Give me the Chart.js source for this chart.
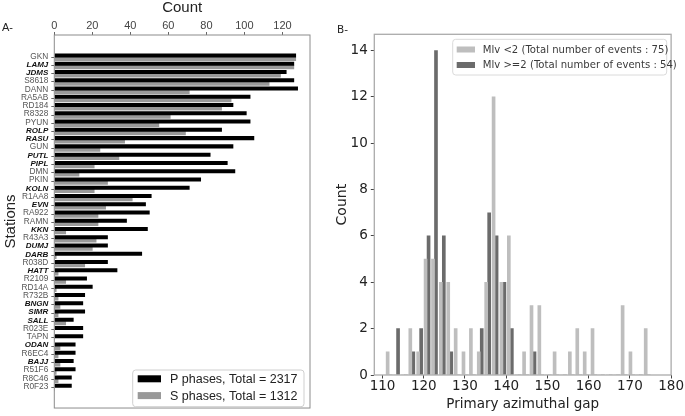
<!DOCTYPE html>
<html>
<head>
<meta charset="utf-8">
<script src="https://cdn.jsdelivr.net/npm/chart.js@4"></script>
<style>
html,body{margin:0;padding:0;background:#fff;}
#wrap{position:relative;width:685px;height:416px;overflow:hidden;background:#fff;}
#boxA{position:absolute;left:0;top:0;width:330px;height:416px;}
#boxB{position:absolute;left:330px;top:0;width:355px;height:416px;}
.tag{position:absolute;line-height:12px;color:#222;white-space:nowrap;}
</style>
</head>
<body>
<div id="wrap">
  <div id="boxA"><canvas id="chartA"></canvas></div>
  <div id="boxB"><canvas id="chartB"></canvas></div>
  <div class="tag" style="left:2px;top:21px;font-family:'Liberation Sans',Arial,sans-serif;font-size:11px;">A-</div>
  <div class="tag" style="left:337px;top:23px;font-family:'DejaVu Sans',sans-serif;font-size:10.5px;">B-</div>
</div>
<script>
// ---------- Panel A data ----------
const stations = ['GKN','LAMJ','JDMS','S8618','DANN','RA5AB','RD184','R8328','PYUN','ROLP','RASU','GUN','PUTL','PIPL','DMN','PKIN','KOLN','R1AA8','EVN','RA922','RAMN','KKN','R43A3','DUMJ','DARB','R038D','HATT','R2109','RD14A','R732B','BNGN','SIMR','SALL','R023E','TAPN','ODAN','R6EC4','BAJJ','R51F6','R8C46','R0F23'];
const strongStations = ['LAMJ','JDMS','ROLP','RASU','PUTL','PIPL','KOLN','EVN','KKN','DUMJ','DARB','HATT','BNGN','SIMR','SALL','ODAN','BAJJ'];
const pPhases = [127,126,122,126,128,103,94,101,103,88,105,94,82,91,95,77,71,51,48,50,38,49,28,28,46,28,33,17,20,16,15,16,10,15,15,11,11,10,11,9,9];
const sPhases = [127,126,119,113,71,93,88,61,55,69,37,24,34,21,13,28,21,41,27,23,23,6,22,20,1,16,2,6,1,2,3,2,6,0,0,3,2,3,1,2,0];
const pLabel = 'P phases, Total = 2317';
const sLabel = 'S phases, Total = 1312';
const countTicksA = [0,20,40,60,80,100,120];

// ---------- Panel B data ----------
const gapBins = [111.6,113.4,115.3,117.1,119.0,120.8,122.6,124.5,126.3,128.1,130.0,131.8,133.7,135.5,137.3,139.2,141.0,142.9,144.7,146.5,148.4,150.2,152.1,153.9,155.8,157.6,159.4,161.3,163.1,165.0,166.8,168.6,170.5,172.3,174.2];
const mlvLow  = [1,0,0,2,1,5,5,4,4,2,1,2,1,4,12,4,6,0,1,3,3,0,1,0,1,2,1,2,0,0,0,3,1,0,2];
const mlvHigh = [0,2,0,1,2,6,14,6,1,0,0,0,2,7,6,4,2,0,0,1,0,0,0,0,0,0,0,0,0,0,0,0,0,0,0];
const lowLabel = 'Mlv <2 (Total number of events : 75)';
const highLabel = 'Mlv >=2 (Total number of events : 54)';
const gapTicks = [110,120,130,140,150,160,170,180];
const countTicksB = [0,2,4,6,8,10,12,14];

const SANS = '"Liberation Sans", Arial, sans-serif';
const DEJA = '"DejaVu Sans", sans-serif';

const framePlugin = {
  id: 'frame',
  afterDraw(chart, args, o) {
    const a = chart.chartArea, ctx = chart.ctx;
    ctx.save();
    ctx.strokeStyle = o.color; ctx.lineWidth = o.width;
    ctx.strokeRect(a.left, a.top, a.right - a.left, a.bottom - a.top);
    ctx.restore();
  }
};

const boxLegend = {
  id: 'boxLegend',
  afterDraw(chart, args, o) {
    const ctx = chart.ctx;
    ctx.save();
    ctx.beginPath();
    if (ctx.roundRect) ctx.roundRect(o.x, o.y, o.w, o.h, 3); else ctx.rect(o.x, o.y, o.w, o.h);
    ctx.fillStyle = 'rgba(255,255,255,0.92)'; ctx.fill();
    ctx.strokeStyle = o.border; ctx.lineWidth = 1; ctx.stroke();
    chart.data.datasets.forEach((ds, i) => {
      const cy = o.y + o.firstRow + i * o.rowH;
      ctx.fillStyle = ds.backgroundColor;
      ctx.fillRect(o.x + o.patchX, cy - o.patchH / 2, o.patchW, o.patchH);
      ctx.fillStyle = o.color; ctx.font = o.font; ctx.textBaseline = 'middle'; ctx.textAlign = 'left';
      ctx.fillText(ds.label, o.x + o.textX, cy + 0.5);
    });
    ctx.restore();
  }
};

// ---------- Chart A ----------
new Chart(document.getElementById('chartA'), {
  type: 'bar',
  data: {
    datasets: [
      { label: pLabel, data: pPhases.map((v, i) => ({x: v, y: i})), backgroundColor: '#000000', barThickness: 3.35 },
      { label: sLabel, data: sPhases.map((v, i) => ({x: v, y: i})), backgroundColor: '#999999', barThickness: 3.35 }
    ]
  },
  plugins: [framePlugin, boxLegend],
  options: {
    indexAxis: 'y',
    responsive: true, maintainAspectRatio: false, animation: false, devicePixelRatio: 1,
    layout: { padding: { left: 0, right: 20, top: 0, bottom: 3.3 } },
    plugins: {
      legend: { display: false }, tooltip: { enabled: false },
      frame: { color: '#8c8c8c', width: 1 },
      boxLegend: { x: 132.7, y: 370, w: 171.3, h: 36.7, firstRow: 8.8, rowH: 16.8, patchX: 5, patchW: 23.3, patchH: 7, textX: 37.3,
                   font: '12.5px ' + SANS, color: '#222', border: '#cfcfcf' }
    },
    scales: {
      x: {
        type: 'linear', position: 'top', min: 0, max: 134.5, bounds: 'data',
        afterBuildTicks: s => { s.ticks = countTicksA.map(v => ({value: v})); },
        ticks: { padding: 1, color: '#444', font: { family: SANS, size: 11, lineHeight: 1 } },
        grid: { display: true, drawOnChartArea: false, tickLength: 3, color: '#666', offset: false },
        border: { display: false },
        title: { display: true, text: 'Count', color: '#222', font: { family: SANS, size: 15, lineHeight: 1.1 }, padding: { top: 0, bottom: 0 } },
        afterFit: s => { s.height = 35; }
      },
      y: {
        type: 'linear', reverse: true, min: -2.69, max: 42.48, bounds: 'data', offset: false,
        afterBuildTicks: s => { s.ticks = stations.map((_, i) => ({value: i})); },
        ticks: {
          autoSkip: false, padding: 3, labelOffset: -1,
          callback: v => stations[v],
          font: ctx => {
            const name = ctx.tick ? stations[ctx.tick.value] : '';
            return strongStations.includes(name)
              ? { family: SANS, size: 8, style: 'italic', weight: 'bold' }
              : { family: SANS, size: 8.3 };
          },
          color: ctx => {
            const name = ctx.tick ? stations[ctx.tick.value] : '';
            return strongStations.includes(name) ? '#111' : '#555';
          }
        },
        grid: { display: true, drawOnChartArea: false, tickLength: 3, color: '#666', offset: false },
        border: { display: false },
        title: { display: true, text: 'Stations', color: '#222', font: { family: SANS, size: 15, lineHeight: 1.2 }, padding: { top: 2, bottom: 0 } },
        afterFit: s => { s.width = 54.3; }
      }
    }
  }
});

// ---------- Chart B ----------
new Chart(document.getElementById('chartB'), {
  type: 'bar',
  data: {
    datasets: [
      { label: lowLabel, data: gapBins.map((c, i) => ({x: c, y: mlvLow[i]})), backgroundColor: '#bebebe', barThickness: 3 },
      { label: highLabel, data: gapBins.map((c, i) => ({x: c, y: mlvHigh[i]})), backgroundColor: '#6b6b6b', barThickness: 3 }
    ]
  },
  plugins: [framePlugin, boxLegend],
  options: {
    responsive: true, maintainAspectRatio: false, animation: false, devicePixelRatio: 1,
    layout: { padding: { left: 0, right: 13.3, top: 34.3, bottom: 0 } },
    plugins: {
      legend: { display: false }, tooltip: { enabled: false },
      frame: { color: '#ababab', width: 1.3 },
      boxLegend: { x: 122.7, y: 39.3, w: 214, h: 35.7, firstRow: 10.2, rowH: 15.5, patchX: 4, patchW: 18.3, patchH: 6, textX: 30,
                   font: '10.1px ' + DEJA, color: '#3a3a3a', border: '#dadada' }
    },
    scales: {
      x: {
        type: 'linear', min: 108, max: 180, bounds: 'data', offset: false,
        afterBuildTicks: s => { s.ticks = gapTicks.map(v => ({value: v})); },
        ticks: { padding: 1, color: '#222', font: { family: DEJA, size: 13.5, lineHeight: 1 } },
        grid: { display: true, drawOnChartArea: false, tickLength: 3.5, color: '#444', offset: false },
        border: { display: false },
        title: { display: true, text: 'Primary azimuthal gap', color: '#222', font: { family: DEJA, size: 13.5, lineHeight: 1.2 }, padding: { top: 0, bottom: 3.5 } },
        afterFit: s => { s.height = 41; }
      },
      y: {
        type: 'linear', min: 0, max: 14.7, bounds: 'data',
        afterBuildTicks: s => { s.ticks = countTicksB.map(v => ({value: v})); },
        ticks: { padding: 3, color: '#222', font: { family: DEJA, size: 13.5, lineHeight: 1 } },
        grid: { display: true, drawOnChartArea: false, tickLength: 3.5, color: '#444' },
        border: { display: false },
        title: { display: true, text: 'Count', color: '#222', font: { family: DEJA, size: 14, lineHeight: 1.2 }, padding: { top: 4.3, bottom: 0 } },
        afterFit: s => { s.width = 44.3; }
      }
    }
  }
});
</script>
</body>
</html>
